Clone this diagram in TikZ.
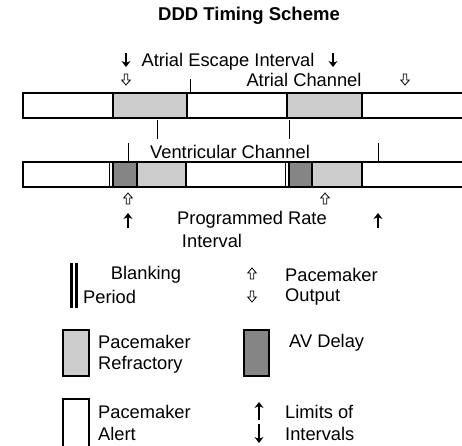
\documentclass[tikz,border=0pt]{standalone}
\usepackage{fontspec}
\setmainfont{Liberation Sans}
\usetikzlibrary{arrows.meta,positioning}
\definecolor{refgray}{gray}{0.8}
\definecolor{avgray}{gray}{0.52}

\begin{document}
\begin{tikzpicture}[x=1pt,y=-1pt,
  every node/.style={font=\fontsize{18.3}{21}\selectfont,inner sep=0pt},
  seg/.style={draw=black,line width=1.8pt},
  tick/.style={line width=0.9pt},
  limarrow/.style={line width=1.5pt,-{Stealth[length=6pt,width=9pt]}},
  hollowdn/.pic={\draw[line width=0.8pt,line join=miter] (-1.8,0) -- (1.8,0) -- (1.8,6) -- (4.3,6) -- (0,11) -- (-4.3,6) -- (-1.8,6) -- cycle;},
  hollowup/.pic={\draw[line width=0.8pt,line join=miter] (-1.8,11) -- (1.8,11) -- (1.8,5) -- (4.3,5) -- (0,0) -- (-4.3,5) -- (-1.8,5) -- cycle;}]
\useasboundingbox (0,0) rectangle (462,445);
% title and interval labels
\node[font=\fontsize{18.5}{21}\selectfont\bfseries] (title) at (249,16) {DDD Timing Scheme};
\node (escape) at (228,62) {Atrial Escape Interval};
\draw[limarrow] (126,53) -- (126,67);
\draw[limarrow] (333,53) -- (333,67);
\node (achan) at (304,80) {Atrial Channel};
\foreach \x in {126,405}{\pic at (\x,74) {hollowdn};}
% atrial channel bar
\foreach \a/\b/\c in {23/113/white,113/187/refgray,187/287/white,287/362/refgray,362/470/white}
  \filldraw[seg,fill=\c] (\a,93) rectangle (\b,118);
\draw[tick] (190,79) -- (190,92);
\foreach \x in {157,289}{\draw[tick] (\x,120) -- (\x,139);}
% ventricular channel bar
\node (vchan) at (230,152) {Ventricular Channel};
\foreach \x in {128,378}{\draw[tick] (\x,143) -- (\x,161);}
\foreach \a/\b/\c in {23/109.5/white,109.5/113/white,113/137/avgray,137/186/refgray,186/285.5/white,285.5/289/white,289/312/avgray,312/362/refgray,362/470/white}
  \filldraw[seg,fill=\c] (\a,162) rectangle (\b,187);
\foreach \x in {128,325}{\pic at (\x,193) {hollowup};}
\draw[limarrow] (128,228) -- (128,213);
\draw[limarrow] (378,228) -- (378,213);
\node (rate) at (252,220) {Programmed Rate};
\node (ratei) at (212,241) {Interval};
% legend
\draw[line width=2.5pt] (71.3,263) -- (71.3,308);
\draw[line width=2.5pt] (76.6,263) -- (76.6,308);
\node (blank) at (146,275) {Blanking};
\node[anchor=west] (period) at (83,297) {Period};
\pic at (252,268) {hollowup};
\pic at (252,291) {hollowdn};
\node[anchor=west] (pout1) at (285,275) {Pacemaker};
\node[anchor=west] (pout2) at (285,297) {Output};
\filldraw[seg,fill=refgray] (63,330) rectangle (89,376);
\node[anchor=west] (refr1) at (98,342) {Pacemaker};
\node[anchor=west] (refr2) at (98,365) {Refractory};
\filldraw[seg,fill=avgray] (244,330) rectangle (269,376);
\node[anchor=west] (avd) at (289,343) {AV Delay};
\filldraw[seg,fill=white] (63,399) rectangle (89,450);
\node[anchor=west] (alert1) at (98,412) {Pacemaker};
\node[anchor=west] (alert2) at (98,434) {Alert};
\draw[limarrow,line width=1.2pt] (259,420) -- (259,402);
\draw[limarrow,line width=1.2pt] (259,424) -- (259,443);
\node[anchor=west] (lim1) at (285,412) {Limits of};
\node[anchor=west] (lim2) at (285,434) {Intervals};
\end{tikzpicture}
\end{document}
